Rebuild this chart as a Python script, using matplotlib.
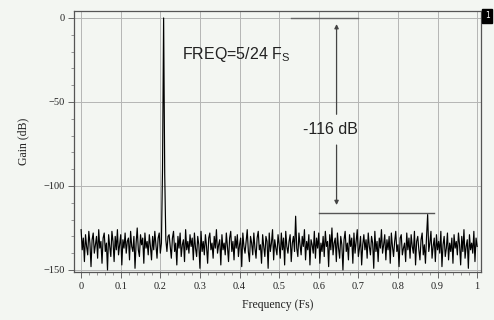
import numpy as np
import matplotlib.pyplot as plt

# FFT output, 361 bins from 0 to Fs (tone at bin 75 = 5/24 Fs)
gain_db = [
    -126, -138, -131, -145, -129, -136, -141, -127, -134, -148, -132, -128, -140, -135, -130, -143, -126, -137, -133, -146,
    -131, -128, -139, -134, -150, -129, -136, -142, -127, -133, -145, -130, -138, -126, -141, -135, -129, -147, -132, -137,
    -128, -140, -133, -131, -144, -127, -136, -139, -130, -149, -134, -125, -138, -142, -129, -135, -131, -146, -128, -137,
    -133, -141, -129, -136, -144, -130, -138, -127, -135, -143, -131, -128, -140, -134, -90, 0, -93, -132, -139, -130,
    -129, -136, -143, -131, -127, -139, -134, -147, -130, -137, -128, -142, -135, -132, -145, -126, -138, -133, -140, -129,
    -136, -131, -144, -128, -137, -142, -130, -135, -149, -127, -139, -133, -141, -129, -136, -146, -131, -128, -138, -134,
    -143, -130, -137, -126, -140, -135, -132, -147, -129, -138, -134, -141, -128, -136, -145, -131, -127, -139, -133, -144,
    -130, -137, -129, -142, -135, -131, -148, -128, -136, -140, -133, -126, -139, -145, -130, -134, -141, -128, -137, -143,
    -131, -127, -138, -135, -146, -129, -136, -142, -130, -133, -149, -128, -139, -134, -126, -144, -132, -137, -141, -129,
    -135, -143, -128, -138, -131, -147, -127, -136, -140, -133, -129, -145, -134, -130, -139, -118, -137, -142, -128, -135,
    -141, -130, -136, -126, -144, -133, -138, -129, -147, -132, -135, -140, -127, -143, -131, -137, -128, -146, -134, -139,
    -130, -142, -127, -136, -133, -148, -129, -138, -125, -141, -134, -131, -145, -128, -137, -143, -130, -135, -150, -132,
    -127, -139, -134, -144, -129, -136, -131, -146, -128, -140, -133, -126, -142, -137, -130, -147, -135, -129, -138, -132,
    -143, -128, -136, -141, -130, -134, -149, -127, -139, -133, -145, -131, -137, -126, -140, -135, -129, -144, -132, -138,
    -130, -146, -128, -136, -142, -133, -127, -139, -135, -148, -131, -129, -141, -137, -134, -145, -128, -138, -131, -143,
    -129, -136, -140, -127, -147, -133, -130, -138, -144, -132, -128, -141, -135, -146, -130, -117, -139, -134, -127, -143,
    -136, -131, -145, -129, -138, -133, -140, -127, -148, -135, -130, -142, -137, -128, -144, -134, -139, -131, -146, -129,
    -137, -133, -141, -128, -135, -147, -130, -139, -126, -143, -136, -132, -149, -129, -138, -134, -140, -127, -145, -131,
    -136,
]
freq = np.linspace(0, 1, len(gain_db))

xticks = [0, 0.1, 0.2, 0.3, 0.4, 0.5, 0.6, 0.7, 0.8, 0.9, 1]
xticklabels = ["0", "0.1", "0.2", "0.3", "0.4", "0.5", "0.6", "0.7", "0.8", "0.9", "1"]
yticks = [0, -50, -100, -150]
yticklabels = ["0", "\u221250", "\u2212100", "\u2212150"]

bg = "#f3f6f2"
fig = plt.figure(figsize=(4.94, 3.2), dpi=100, facecolor=bg)
ax = fig.add_axes([0.150, 0.150, 0.824, 0.816], facecolor=bg)

ax.plot(freq, gain_db, color="black", lw=0.85)

ax.set_xlim(-0.0177, 1.0101)
ax.set_ylim(-151.2, 4.2)
ax.set_xticks(xticks)
ax.set_xticklabels(xticklabels, family="Liberation Serif", fontsize=7.5, color="#222222")
ax.set_yticks(yticks)
ax.set_yticklabels(yticklabels, family="Liberation Serif", fontsize=7.5, color="#222222")
ax.set_xticks(np.arange(0, 1.001, 0.02), minor=True)
ax.set_yticks(np.arange(-150, 1, 10), minor=True)
ax.tick_params(which="major", length=4, width=0.7, color="#666666", pad=3)
ax.tick_params(which="minor", length=2.5, width=0.6, color="#888888")
ax.grid(True, which="major", color="#b5b5b5", lw=0.7)
for s in ax.spines.values():
    s.set_color("#555555")
    s.set_linewidth(0.9)

ax.set_xlabel("Frequency (Fs)", family="Liberation Serif", fontsize=8.5, color="#222222", labelpad=6)
ax.set_ylabel("Gain (dB)", family="Liberation Serif", fontsize=8.5, color="#222222", labelpad=10)

# annotations
ax.text(0.255, -22, "FREQ=5/24 F$\\mathregular{_S}$", family="Liberation Sans",
        fontsize=11.5, va="center", ha="left", color="#222222")
ax.plot([0.53, 0.70], [0, 0], color="#666666", lw=1.0)
ax.plot([0.60, 0.89], [-116, -116], color="#555555", lw=1.0)
ax.annotate("", xy=(0.645, -2), xytext=(0.645, -59),
            arrowprops=dict(arrowstyle="-|>", color="#444444", lw=0.9, mutation_scale=6))
ax.annotate("", xy=(0.645, -113), xytext=(0.645, -74),
            arrowprops=dict(arrowstyle="-|>", color="#444444", lw=0.9, mutation_scale=6))
ax.text(0.629, -66.5, "-116 dB", family="Liberation Sans", fontsize=11.5,
        va="center", ha="center", color="#222222")

fig.text(0.986, 0.95, "1", fontsize=5.5, color="white", ha="center", va="center",
         bbox=dict(boxstyle="square,pad=0.35", fc="black", ec="black"))

fig.savefig("out.png", dpi=100, facecolor=bg)
